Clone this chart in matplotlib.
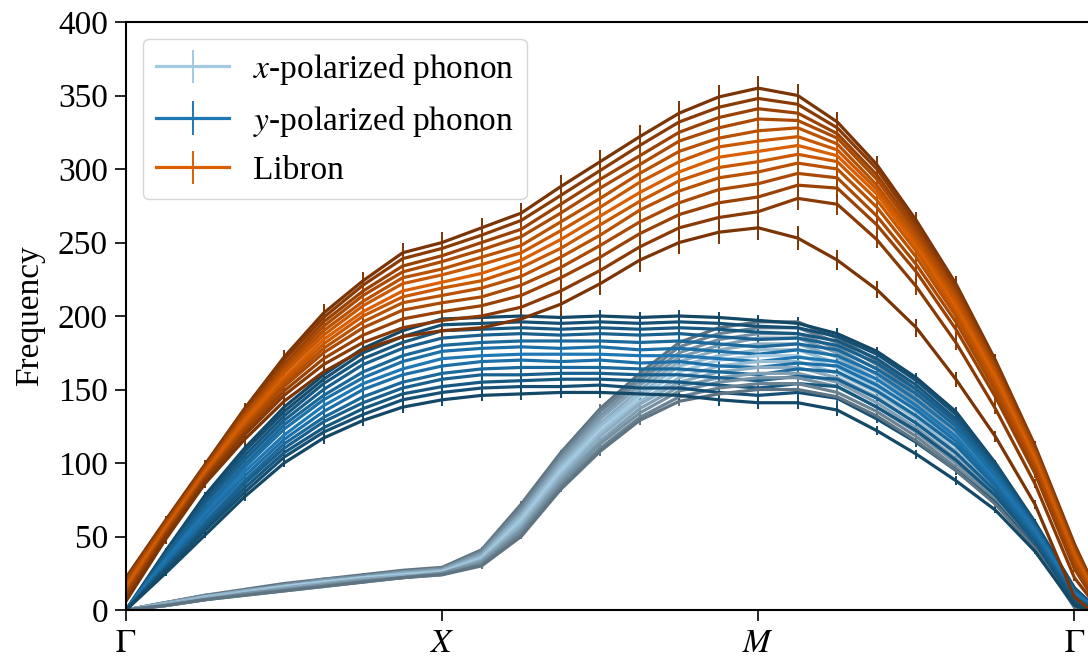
import numpy as np
import matplotlib
matplotlib.use("Agg")
import matplotlib.pyplot as plt
from matplotlib.colors import to_rgb

plt.rcParams["font.family"] = ["Liberation Serif", "DejaVu Serif"]
plt.rcParams["mathtext.fontset"] = "stix"
plt.rcParams["font.size"] = 24

# path coordinate: Gamma -> X -> M -> Gamma, one unit per segment
kpath = [0.0, 0.125, 0.25, 0.375, 0.5, 0.625, 0.75, 0.875,
         1.0, 1.125, 1.25, 1.375, 1.5, 1.625, 1.75, 1.875,
         2.0, 2.125, 2.25, 2.375, 2.5, 2.625, 2.75, 2.875,
         3.0, 3.05]
tick_pos = [0, 1, 2, 3]
tick_labels = [r"$\Gamma$", r"$X$", r"$M$", r"$\Gamma$"]

# x-polarized phonon branch, one row per sample (top -> bottom)
x_pol = [
    [0, 5, 10, 14, 18, 21, 24, 27, 29, 41, 72, 107, 137, 161, 182, 192, 196, 196, 185, 170, 150, 127, 96, 58, 10, 3],
    [0, 5, 10, 13, 17, 21, 23, 26, 28, 40, 70, 105, 135, 158, 179, 188, 192, 192, 182, 167, 147, 125, 94, 57, 10, 3],
    [0, 5, 9, 13, 17, 20, 23, 26, 28, 39, 68, 103, 132, 156, 175, 184, 188, 188, 178, 164, 144, 122, 92, 55, 9, 2],
    [0, 5, 9, 13, 16, 20, 22, 25, 27, 38, 66, 101, 130, 153, 172, 180, 185, 185, 175, 160, 141, 119, 90, 54, 8, 2],
    [0, 4, 9, 13, 16, 19, 22, 25, 27, 37, 65, 99, 127, 150, 169, 177, 181, 181, 172, 157, 138, 116, 88, 53, 7, 2],
    [0, 4, 9, 12, 16, 19, 22, 24, 26, 36, 63, 97, 125, 147, 166, 173, 177, 177, 168, 154, 135, 114, 86, 52, 7, 2],
    [0, 4, 8, 12, 16, 19, 22, 24, 26, 35, 61, 95, 122, 145, 162, 170, 173, 173, 165, 151, 132, 111, 84, 50, 6, 1],
    [0, 4, 8, 12, 15, 18, 21, 23, 25, 34, 59, 92, 120, 142, 158, 166, 169, 169, 161, 148, 130, 108, 82, 48, 5, 1],
    [0, 4, 8, 11, 15, 18, 21, 23, 25, 34, 57, 90, 118, 140, 155, 162, 165, 165, 158, 145, 127, 106, 80, 47, 5, 1],
    [0, 3, 7, 11, 14, 17, 20, 22, 25, 33, 55, 88, 115, 137, 152, 158, 161, 161, 155, 141, 124, 103, 78, 46, 4, 1],
    [0, 3, 7, 11, 14, 17, 20, 22, 25, 32, 54, 86, 113, 134, 149, 155, 158, 158, 152, 138, 121, 100, 76, 45, 3, 0],
    [0, 3, 7, 10, 13, 16, 19, 22, 24, 31, 52, 84, 110, 131, 145, 151, 154, 154, 148, 135, 118, 97, 74, 43, 2, 0],
    [0, 3, 7, 10, 13, 16, 19, 22, 24, 30, 50, 82, 108, 129, 142, 147, 150, 150, 145, 132, 115, 95, 72, 42, 2, 0],
]
x_err = [1, 1, 1, 1, 1, 1, 1, 1, 1, 2, 2, 2, 3, 3, 3, 3, 3, 3, 3, 3, 2, 2, 2, 1, 1, 1]

# y-polarized phonon branch
y_pol = [
    [0, 40, 78, 110, 138, 160, 178, 190, 198, 199, 200, 199, 200, 199, 200, 199, 197, 195, 188, 176, 158, 135, 100, 60, 15, 5],
    [0, 39, 76, 108, 135, 157, 175, 186, 194, 195, 196, 195, 196, 195, 196, 195, 193, 192, 186, 174, 156, 133, 99, 59, 15, 5],
    [0, 38, 74, 105, 132, 154, 171, 182, 190, 191, 192, 191, 192, 191, 192, 191, 189, 188, 183, 171, 153, 130, 97, 58, 14, 4],
    [0, 37, 72, 102, 129, 150, 167, 178, 185, 187, 188, 187, 188, 187, 188, 186, 184, 185, 180, 168, 150, 128, 95, 57, 13, 4],
    [0, 35, 69, 99, 126, 146, 162, 173, 180, 182, 183, 183, 183, 182, 183, 181, 179, 181, 177, 164, 147, 125, 93, 56, 12, 4],
    [0, 34, 67, 97, 123, 143, 158, 169, 176, 178, 179, 178, 179, 177, 178, 176, 174, 177, 173, 161, 143, 122, 91, 55, 12, 4],
    [0, 33, 65, 94, 119, 139, 154, 164, 171, 173, 174, 174, 174, 173, 173, 171, 169, 172, 169, 157, 139, 118, 88, 53, 11, 3],
    [0, 32, 63, 91, 116, 135, 150, 160, 166, 169, 170, 169, 170, 168, 169, 166, 165, 168, 166, 153, 136, 115, 86, 52, 10, 3],
    [0, 30, 60, 88, 113, 131, 145, 155, 161, 164, 165, 165, 165, 164, 164, 162, 160, 164, 162, 149, 132, 112, 84, 50, 9, 3],
    [0, 29, 58, 86, 110, 128, 141, 151, 157, 160, 160, 161, 161, 160, 160, 158, 156, 159, 157, 144, 127, 107, 81, 48, 8, 3],
    [0, 28, 56, 83, 107, 124, 137, 147, 152, 155, 156, 157, 157, 156, 155, 153, 151, 154, 152, 138, 122, 102, 78, 46, 7, 2],
    [0, 27, 54, 80, 104, 121, 133, 143, 148, 151, 152, 152, 153, 151, 151, 148, 146, 148, 144, 130, 114, 95, 73, 43, 5, 1],
    [0, 25, 51, 77, 100, 117, 129, 138, 143, 146, 147, 148, 148, 147, 146, 143, 141, 141, 136, 122, 106, 88, 68, 40, 3, 0],
]
y_err = [1, 2, 2, 3, 3, 4, 4, 4, 4, 4, 4, 4, 4, 4, 4, 4, 4, 4, 4, 3, 3, 3, 2, 2, 1, 1]

# libron branch
libron = [
    [22, 61, 99, 137, 172, 202, 224, 243, 250, 260, 270, 288, 305, 322, 338, 349, 355, 350, 332, 303, 265, 222, 170, 112, 45, 22],
    [21, 60, 98, 136, 170, 199, 221, 239, 246, 255, 265, 282, 299, 316, 332, 342, 348, 344, 328, 300, 262, 220, 168, 111, 44, 21],
    [20, 59, 97, 134, 167, 196, 217, 234, 241, 250, 259, 276, 293, 309, 325, 335, 341, 338, 324, 296, 259, 217, 166, 109, 42, 20],
    [19, 58, 96, 133, 165, 193, 214, 230, 237, 245, 254, 270, 287, 303, 319, 328, 334, 333, 321, 293, 256, 215, 164, 108, 41, 19],
    [17, 57, 95, 131, 163, 190, 210, 226, 232, 240, 248, 264, 280, 297, 312, 321, 326, 328, 317, 289, 253, 212, 162, 106, 39, 18],
    [16, 56, 94, 130, 161, 187, 207, 222, 228, 235, 243, 258, 274, 291, 305, 315, 319, 322, 313, 286, 250, 209, 160, 104, 38, 18],
    [15, 55, 93, 128, 158, 184, 203, 217, 223, 229, 238, 252, 268, 284, 298, 308, 312, 316, 309, 283, 247, 206, 158, 102, 36, 17],
    [14, 54, 92, 126, 156, 181, 200, 213, 219, 224, 233, 246, 262, 278, 292, 301, 305, 310, 305, 279, 244, 203, 155, 100, 35, 16],
    [12, 53, 91, 124, 154, 178, 196, 209, 214, 219, 227, 240, 255, 272, 285, 294, 298, 304, 300, 274, 240, 200, 152, 98, 33, 15],
    [11, 52, 90, 123, 152, 175, 192, 204, 209, 213, 221, 233, 248, 264, 277, 286, 290, 297, 294, 268, 235, 196, 149, 96, 31, 13],
    [10, 51, 89, 121, 149, 171, 187, 198, 203, 207, 214, 226, 240, 256, 269, 277, 281, 289, 287, 262, 230, 191, 145, 93, 28, 11],
    [8, 50, 88, 119, 146, 167, 182, 192, 197, 200, 206, 217, 231, 247, 260, 267, 271, 280, 276, 252, 220, 182, 137, 86, 22, 8],
    [6, 48, 86, 116, 142, 162, 177, 186, 190, 192, 198, 208, 222, 238, 250, 257, 260, 253, 238, 218, 192, 157, 118, 72, 9, 0],
]
lib_err = [2, 3, 3, 4, 5, 6, 6, 7, 7, 7, 7, 8, 8, 8, 8, 8, 8, 8, 7, 6, 6, 5, 4, 3, 2, 2]


def shade(inner, outer, t):
    """Blend from the inner (middle sample) colour to the outer one."""
    a, b = np.array(to_rgb(inner)), np.array(to_rgb(outer))
    return tuple(a + (b - a) * t)


families = [
    (x_pol, x_err, ("#a3cae1", "#5f7482"), r"$x$-polarized phonon"),
    (y_pol, y_err, ("#1f78b4", "#134867"), r"$y$-polarized phonon"),
    (libron, lib_err, ("#d95f02", "#7a3405"), "Libron"),
]

fig = plt.figure(figsize=(10.88, 6.63), dpi=100)
ax = fig.add_axes([126 / 1088, 53 / 663, 980 / 1088, 588 / 663])

n_samples = len(libron)
mid = n_samples // 2
for i in range(n_samples):
    t = abs(i - mid) / mid
    for vals, err, (inner, outer), label in families:
        ax.errorbar(kpath, vals[i], yerr=err, color=shade(inner, outer, t),
                    lw=2.3, elinewidth=1.4, capsize=0,
                    label=label if i == mid else "_nolegend_")

ax.set_xlim(0, 3.1)
ax.set_ylim(0, 400)
ax.set_yticks(range(0, 401, 50))
ax.set_xticks(tick_pos)
ax.set_xticklabels(tick_labels)
ax.set_ylabel("Frequency", labelpad=9)
ax.tick_params(direction="out", length=8, width=1.2, pad=5)
for spine in ax.spines.values():
    spine.set_linewidth(1.5)

ax.legend(loc="upper left", handlelength=2.2, handletextpad=0.7,
          borderaxespad=0.5)

fig.savefig("out.png", dpi=100)
